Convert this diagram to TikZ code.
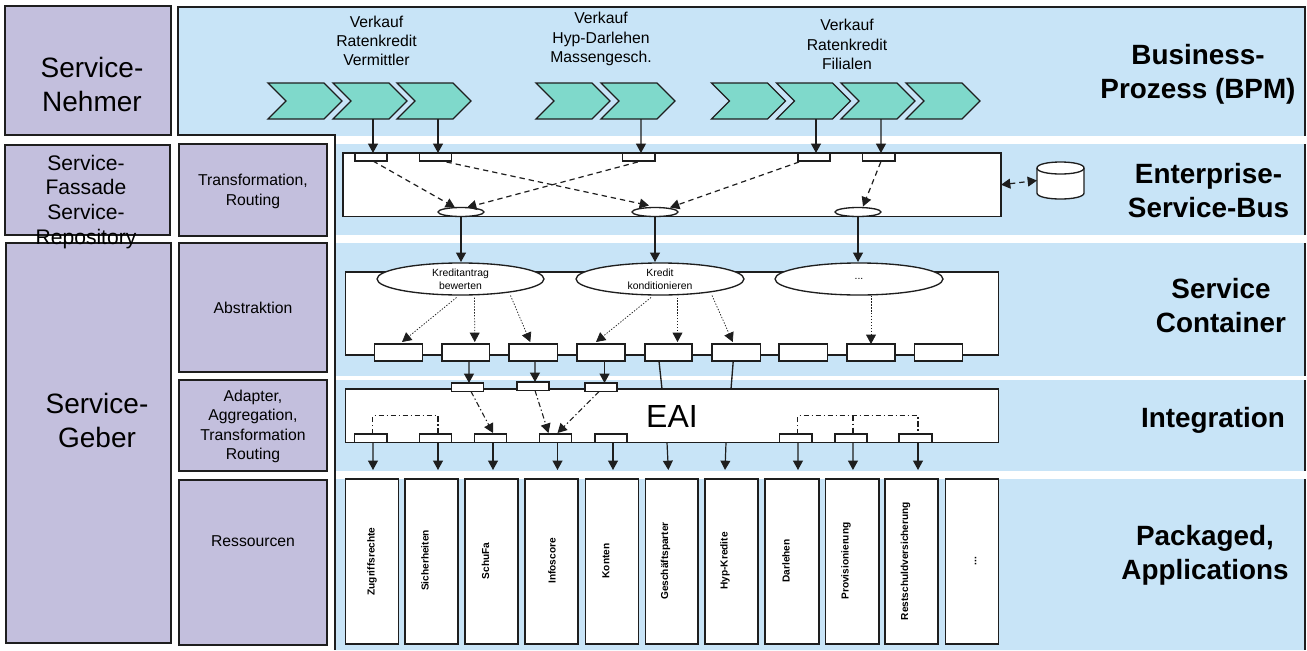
\documentclass[tikz,border=0pt]{standalone}
\usepackage{fontspec}
\setmainfont{Liberation Sans}
\usetikzlibrary{arrows.meta,calc,shapes.geometric,shapes.symbols}
\definecolor{bandblue}{HTML}{C8E4F7}
\definecolor{lilac}{HTML}{C3BFDD}
\definecolor{teal}{HTML}{7FD9CB}
\definecolor{ink}{HTML}{1E1E1E}
\newcommand{\bx}[7]{%
  \pgfmathsetmacro\bxw{(#5-#3)*0.75}\pgfmathsetmacro\bxh{(#6-#4)*0.75}%
  \pgfmathsetmacro\bxcx{(#3+#5)/2}\pgfmathsetmacro\bxcy{(#4+#6)/2}%
  \node[#1,minimum width=\bxw pt,minimum height=\bxh pt] (#2) at (\bxcx,\bxcy) {#7};}
\newcommand{\fz}[2]{\fontsize{#1pt}{#2pt}\selectfont}
\tikzset{
  base/.style={draw=ink,line width=1pt,inner sep=0pt,outer sep=0pt},
  lilacbox/.style={base,fill=lilac},
  whitebox/.style={base,fill=white},
  port/.style={base,fill=white,line width=0.9pt},
  oval/.style={base,fill=white,shape=ellipse,align=center,font=\fz{7.8}{9.8}},
  chevron/.style={base,fill=teal,shape=signal,signal from=west,signal to=east,signal pointer angle=90},
  txt/.style={inner sep=0pt,outer sep=0pt,align=center,text=black},
  big/.style={txt,font=\fz{21}{25.5}},
  mid/.style={txt,font=\fz{15.8}{18.7}},
  small/.style={txt,font=\fz{11.8}{14.4}},
  head/.style={txt,font=\fz{20.9}{25.5}\bfseries},
  app/.style={txt,rotate=90,font=\fz{7.6}{9}\bfseries},
  flow/.style={-{Triangle[length=7pt,width=7.4pt]},line width=0.9pt,draw=ink},
  flowdash/.style={flow,dash pattern=on 4pt off 3pt},
  flowdot/.style={-{Triangle[length=7pt,width=7.4pt]},line width=0.55pt,draw=ink,dash pattern=on 1pt off 1.2pt},
  flowmix/.style={-{Triangle[length=7pt,width=7.4pt]},line width=0.8pt,draw=ink,dash pattern=on 4pt off 2pt on 1pt off 2pt},
  mix/.style={line width=0.8pt,draw=ink,dash pattern=on 4pt off 2pt on 1pt off 2pt},
  plain/.style={line width=1pt,draw=ink},
  bothdash/.style={{Triangle[length=7pt,width=7.4pt]}-{Triangle[length=7pt,width=7.4pt]},line width=0.9pt,draw=ink,dash pattern=on 4pt off 3pt},
}
\begin{document}
\begin{tikzpicture}[x=0.75pt,y=-0.75pt]
\useasboundingbox (0,0) rectangle (1307,650);
% background
\fill[bandblue] (178,7) -- (1305,7) -- (1305,650) -- (335,650) -- (335,135) -- (178,135) -- cycle;
\draw[plain] (335,650) -- (335,135) -- (178,135) -- (178,7) -- (1305,7) -- (1305,650);
\fill[white] (336,135.5) rectangle (1307,144);
\fill[white] (336,235) rectangle (1307,243);
\fill[white] (336,376) rectangle (1307,380);
\fill[white] (336,471) rectangle (1307,479);
% left column
\bx{lilacbox}{nehmer}{5}{6}{171}{135}{}
\bx{lilacbox}{fassade}{5}{145}{170}{235}{}
\bx{lilacbox}{geber}{6}{243}{171}{643}{}
\bx{lilacbox}{transf}{179}{144}{327}{236}{}
\bx{lilacbox}{abstr}{179}{243}{327}{372}{}
\bx{lilacbox}{adapt}{179}{380}{327}{471}{}
\bx{lilacbox}{ressu}{179}{480}{327}{645}{}
% chevrons
\bx{chevron}{a1}{268}{83}{342}{119}{}
\bx{chevron}{a2}{333}{83}{407}{119}{}
\bx{chevron}{a3}{397}{83}{471}{119}{}
\bx{chevron}{b1}{536}{83}{610}{119}{}
\bx{chevron}{b2}{601}{83}{675}{119}{}
\bx{chevron}{c1}{711.5}{83}{785.5}{119}{}
\bx{chevron}{c2}{776.5}{83}{850.5}{119}{}
\bx{chevron}{c3}{841}{83}{915}{119}{}
\bx{chevron}{c4}{906}{83}{980}{119}{}
% ESB
\bx{whitebox}{esb}{343}{153}{1001}{216.5}{}
\bx{port}{p1}{355}{153}{387}{161}{}
\bx{port}{p2}{419.5}{153}{451.5}{161}{}
\bx{port}{p3}{622.5}{153}{655}{161}{}
\bx{port}{p4}{798}{153}{830}{161}{}
\bx{port}{p5}{862.5}{153}{895}{161}{}
\bx{oval}{e1}{438}{207.5}{484}{216.5}{}
\bx{oval}{e2}{632}{207.5}{678}{216.5}{}
\bx{oval}{e3}{835}{207.5}{881}{216.5}{}
% database
\node[inner sep=0pt,outer sep=0pt,minimum width=35.25pt,minimum height=27.75pt] (db) at (1060.5,180.5) {};
\filldraw[fill=white,draw=ink,line width=1pt] ($(db.north west)+(0,6)$)
  .. controls +(0,-8) and +(0,-8) .. ++(47,0) -- ++(0,25)
  .. controls +(0,8) and +(0,8) .. ++(-47,0) -- cycle;
\draw[draw=ink,line width=1pt] ($(db.north west)+(0,6)$) .. controls +(0,8) and +(0,8) .. ++(47,0);
% Service container
\bx{whitebox}{sc}{345.5}{272}{998.5}{355}{}
\bx{oval}{s1}{377}{263}{544}{295}{Kreditantrag\\bewerten}
\bx{oval}{s2}{576}{263}{744}{295}{Kredit\\konditionieren}
\bx{oval}{s3}{775}{263}{943}{295}{...}
\bx{whitebox}{k1}{374.5}{344}{422.5}{361}{}
\bx{whitebox}{k2}{442}{344}{489.5}{361}{}
\bx{whitebox}{k3}{509}{344}{557.5}{361}{}
\bx{whitebox}{k4}{577}{344}{625}{361}{}
\bx{whitebox}{k5}{645}{344}{692}{361}{}
\bx{whitebox}{k6}{712}{344}{760.5}{361}{}
\bx{whitebox}{k7}{779}{344}{827.5}{361}{}
\bx{whitebox}{k8}{847}{344}{895}{361}{}
\bx{whitebox}{k9}{914.5}{344}{962.5}{361}{}
% Integration
\bx{whitebox}{eai}{345.5}{389}{998.5}{442.5}{}
\bx{port}{t1}{451.5}{383}{483.5}{391.5}{}
\bx{port}{t2}{517}{382}{549}{390.5}{}
\bx{port}{t3}{585}{383}{617}{391.5}{}
\bx{port}{u1}{354.5}{434}{387}{442.5}{}
\bx{port}{u2}{419.5}{434}{451.5}{442.5}{}
\bx{port}{u3}{474.5}{434}{506.5}{442.5}{}
\bx{port}{u4}{539.5}{434}{571.5}{442.5}{}
\bx{port}{u5}{595}{434}{627}{442.5}{}
\bx{port}{u6}{779.5}{434}{812}{442.5}{}
\bx{port}{u7}{835}{434}{867}{442.5}{}
\bx{port}{u8}{899}{434}{932}{442.5}{}
% applications
\bx{whitebox}{r1}{345.5}{479}{398.5}{644}{}
\bx{whitebox}{r2}{405}{479}{458}{644}{}
\bx{whitebox}{r3}{465}{479}{518}{644}{}
\bx{whitebox}{r4}{525}{479}{578}{644}{}
\bx{whitebox}{r5}{585.5}{479}{638.5}{644}{}
\bx{whitebox}{r6}{645.5}{479}{698}{644}{}
\bx{whitebox}{r7}{705}{479}{758}{644}{}
\bx{whitebox}{r8}{765}{479}{819}{644}{}
\bx{whitebox}{r9}{825.5}{479}{879}{644}{}
\bx{whitebox}{r10}{885}{479}{938}{644}{}
\bx{whitebox}{r11}{945.5}{479}{998.5}{644}{}
% chevron to port
\draw[flow] ($(a2.south)+(3,0)$) -- ($(p1.north)+(2,0)$);
\draw[flow] ($(a3.south)+(4,0)$) -- ($(p2.north)+(2.5,0)$);
\draw[flow] ($(b2.south)+(3,0)$) -- ($(p3.north)+(2.2,0)$);
\draw[flow] ($(c2.south)+(2.5,0)$) -- ($(p4.north)+(2,0)$);
\draw[flow] ($(c3.south)+(3,0)$) -- ($(p5.north)+(2.2,0)$);
% ESB dashed
\draw[flowdash] ($(p1.south)+(2,0)$) -- ($(e1.north)+(-6,0)$);
\draw[flowdash] ($(p2.south)+(11,1)$) -- ($(e2.north)+(-6,-2)$);
\draw[flowdash] ($(p3.south)+(-1,1)$) -- ($(e1.north)+(6,0)$);
\draw[flowdash] ($(p4.south)+(-15,1)$) -- ($(e2.north)+(15,0)$);
\draw[flowdash] ($(p5.south)+(2,1)$) -- ($(e3.north)+(5,-1)$);
\draw[bothdash] (esb.east) -- (db.west);
% ESB to container
\draw[flow] (e1.south) -- ($(s1.north)+(0.5,-1)$);
\draw[flow] (e2.south) -- ($(s2.north)+(-5,-1)$);
\draw[flow] (e3.south) -- ($(s3.north)+(-1,-1)$);
% container dotted
\draw[flowdot] ($(s1.south)+(-4,2.5)$) -- ($(k1.north)+(3.5,-2)$);
\draw[flowdot] ($(s1.south)+(14,2.5)$) -- ($(k2.north)+(9,-2)$);
\draw[flowdot] ($(s1.south)+(50,0.5)$) -- ($(k3.north)+(-3,-2)$);
\draw[flowdot] ($(s2.south)+(-9,2.5)$) -- ($(k4.north)+(-5,-2)$);
\draw[flowdot] ($(s2.south)+(17.5,2.5)$) -- ($(k5.north)+(9,-2)$);
\draw[flowdot] ($(s2.south)+(52,0.5)$) -- ($(k6.north)+(-3.5,-2)$);
\draw[flowdot] ($(s3.south)+(12,0.5)$) -- (k8.north);
% container to EAI
\draw[flow] ($(k2.south)+(3.2,0)$) -- ($(t1.north)+(1.5,0)$);
\draw[flow] ($(k3.south)+(1.7,0)$) -- ($(t2.north)+(2,0)$);
\draw[flow] ($(k4.south)+(3.5,0)$) -- ($(t3.north)+(3.5,0)$);
\draw[plain] ($(k5.south)+(-9.5,0)$) -- ($(eai.north)+(-10,0)$);
\draw[plain] ($(k6.south)+(-3,0)$) -- ($(eai.north)+(59,0)$);
% EAI dash-dot
\draw[flowmix] ($(t1.south)+(3.5,0)$) -- ($(u3.north)+(2.5,-1)$);
\draw[flowmix] ($(t2.south)+(2,0)$) -- ($(u4.north)+(-7,-1)$);
\draw[flowmix] ($(t3.south)+(-2,0)$) -- ($(u4.north)+(2,-1)$);
\coordinate (b1l) at ($(u1.north)+(2.2,-18.3)$);
\coordinate (b1r) at ($(u2.north)+(2.5,-18.3)$);
\coordinate (b2l) at ($(u6.north)+(2.2,-18.3)$);
\coordinate (b2m) at ($(u7.north)+(2,-18.3)$);
\coordinate (b2r) at ($(u8.north)+(2.5,-18.3)$);
\draw[mix] ($(u1.north)+(2.2,0)$) -- (b1l) -- (b1r) -- ($(u2.north)+(2.5,0)$);
\draw[mix] ($(u6.north)+(2.2,0)$) -- (b2l) -- (b2r) -- ($(u8.north)+(2.5,0)$);
\draw[mix] (b2m) -- ($(u7.north)+(2,0)$);
% EAI to apps
\draw[flow] ($(u1.south)+(2.2,0)$) -- ($(r1.north)+(1,-9)$);
\draw[flow] ($(u2.south)+(2.5,0)$) -- ($(r2.north)+(6.5,-9)$);
\draw[flow] ($(u3.south)+(2.5,0)$) -- ($(r3.north)+(1.5,-9)$);
\draw[flow] ($(u4.south)+(2,0)$) -- ($(r4.north)+(6,-9)$);
\draw[flow] ($(u5.south)+(2,0)$) -- ($(r5.north)+(1,-9)$);
\draw[flow] ($(eai.south)+(-5,0)$) -- ($(r6.north)+(-3.4,-9)$);
\draw[flow] ($(eai.south)+(54,0)$) -- ($(r7.north)+(-6.5,-9)$);
\draw[flow] ($(u6.south)+(2.2,0)$) -- ($(r8.north)+(6,-9)$);
\draw[flow] ($(u7.south)+(2,0)$) -- ($(r9.north)+(0.7,-9)$);
\draw[flow] ($(u8.south)+(2.5,0)$) -- ($(r10.north)+(6.5,-9)$);
% labels: left
\node[big] (tn) at (92,84) {Service-\\Nehmer};
\node[mid] (tf) at (86,202) {Service-\\Fassade\\Service-\\Repository};
\node[big] (tg) at (97,420) {Service-\\Geber};
\node[small] (ttr) at (253,191.5) {Transformation,\\Routing};
\node[small] (tab) at (253,308) {Abstraktion};
\node[small] (tad) at (253,426.5) {Adapter,\\Aggregation,\\Transformation\\Routing};
\node[small] (tre) at (253,541) {Ressourcen};
% labels: process names
\node[small] (v1) at (376.5,41) {Verkauf\\Ratenkredit\\Vermittler};
\node[small] (v2) at (601,39) {Verkauf\\Hyp-Darlehen\\Massengesch.};
\node[small] (v3) at (847,44.5) {Verkauf\\Ratenkredit\\Filialen};
% labels: right
\node[head] (h1) at (1198,74.5) {Business-\\Prozess (BPM)};
\node[head] (h2) at (1208.5,190.5) {Enterprise-\\Service-Bus};
\node[head] (h3) at (1221,305.5) {Service\\Container};
\node[head] (h4) at (1213,420) {Integration};
\node[head] (h5) at (1205,555) {Packaged,\\Applications};
\node[txt,font=\fz{24}{28}] (teai) at (672,416.5) {EAI};
% app labels
\node[app] (l1) at (372,561.5) {Zugriffsrechte};
\node[app] (l2) at (425,560.5) {Sicherheiten};
\node[app] (l3) at (485.5,561) {SchuFa};
\node[app] (l4) at (552,561) {Infoscore};
\node[app] (l5) at (606,561) {Konten};
\node[app] (l6) at (665.5,561) {Geschäftsparter};
\node[app] (l7) at (725,561) {Hyp-Kredite};
\node[app] (l8) at (786,561) {Darlehen};
\node[app] (l9) at (846,561) {Provisionierung};
\node[app] (l10) at (905.5,561) {Restschuldversicherung};
\node[app] (l11) at (975.5,561) {...};
\end{tikzpicture}
\end{document}
